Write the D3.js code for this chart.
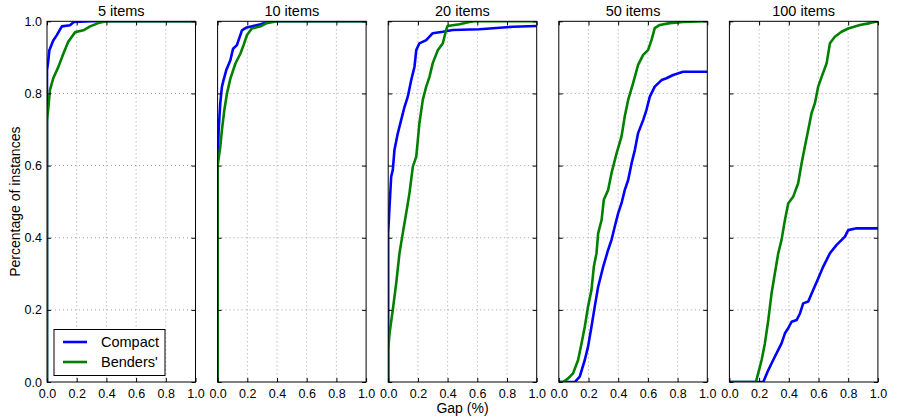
<!DOCTYPE html>
<html>
<head>
<meta charset="utf-8">
<script src="https://cdn.jsdelivr.net/npm/d3@7"></script>
<style>
  html, body { margin: 0; padding: 0; background: #fff; }
  svg { display: block; }
  text { font-family: "Liberation Sans", Arial, Helvetica, sans-serif; fill: #000; }
</style>
</head>
<body>
<svg id="chart" width="897" height="418"></svg>
<script>
// Cumulative share of instances solved within a given optimality gap,
// one panel per instance size. Each point is [gap, fraction].
const panelTitles = ["5 items", "10 items", "20 items", "50 items", "100 items"];
const xTicks = [0.0, 0.2, 0.4, 0.6, 0.8, 1.0];
const yTicks = [0.0, 0.2, 0.4, 0.6, 0.8, 1.0];
const seriesNames = ["Compact", "Benders'"];
const seriesColors = ["#0000ff", "#008000"];

const compact5 = [[0,0],[0,0.864],[0.009,0.892],[0.016,0.92],[0.042,0.947],[0.065,0.961],
  [0.10,0.986],[0.155,0.989],[0.18,0.998],[0.30,1.0],[1.0,1.0]];
const benders5 = [[0,0],[0,0.726],[0.009,0.76],[0.02,0.81],[0.042,0.842],[0.076,0.873],
  [0.11,0.91],[0.143,0.943],[0.19,0.97],[0.245,0.975],[0.29,0.986],[0.345,0.995],[0.40,1.0],[1.0,1.0]];

const compact10 = [[0,0],[0,0.60],[0.007,0.698],[0.018,0.773],[0.029,0.818],[0.04,0.837],
  [0.058,0.864],[0.086,0.892],[0.104,0.924],[0.13,0.934],[0.164,0.975],[0.19,0.982],
  [0.29,0.992],[0.35,1.0],[1.0,1.0]];
const benders10 = [[0,0],[0,0.599],[0.018,0.652],[0.029,0.698],[0.045,0.753],[0.063,0.80],
  [0.086,0.841],[0.12,0.883],[0.153,0.91],[0.175,0.934],[0.197,0.961],[0.23,0.98],
  [0.29,0.986],[0.33,0.995],[0.40,1.0],[1.0,1.0]];

const compact20 = [[0,0],[0,0.413],[0.009,0.486],[0.02,0.569],[0.031,0.588],[0.042,0.643],
  [0.065,0.69],[0.087,0.726],[0.11,0.763],[0.132,0.791],[0.155,0.837],[0.177,0.874],
  [0.189,0.92],[0.21,0.939],[0.256,0.948],[0.30,0.967],[0.368,0.971],[0.435,0.976],
  [0.615,0.978],[0.84,0.985],[1.0,0.987]];
const benders20 = [[0,0],[0,0.089],[0.009,0.135],[0.031,0.20],[0.054,0.274],[0.076,0.357],
  [0.098,0.412],[0.121,0.468],[0.143,0.523],[0.166,0.597],[0.189,0.625],[0.20,0.673],
  [0.21,0.717],[0.233,0.782],[0.256,0.819],[0.278,0.846],[0.30,0.884],[0.334,0.92],
  [0.368,0.939],[0.39,0.976],[0.40,0.987],[0.48,0.992],[0.547,0.998],[0.58,1.0],[1.0,1.0]];

const compact50 = [[0,0],[0.108,0],[0.141,0.015],[0.175,0.061],[0.197,0.098],[0.22,0.153],
  [0.242,0.209],[0.265,0.264],[0.299,0.32],[0.332,0.366],[0.355,0.394],[0.377,0.431],
  [0.40,0.468],[0.422,0.495],[0.444,0.532],[0.467,0.56],[0.49,0.606],[0.512,0.643],
  [0.534,0.69],[0.568,0.726],[0.59,0.754],[0.613,0.791],[0.646,0.819],[0.692,0.837],
  [0.725,0.842],[0.77,0.851],[0.837,0.86],[1.0,0.86]];
const benders50 = [[0,0],[0.029,0],[0.063,0.01],[0.096,0.024],[0.13,0.061],[0.153,0.107],
  [0.175,0.153],[0.197,0.209],[0.22,0.255],[0.236,0.32],[0.254,0.357],[0.265,0.412],
  [0.288,0.449],[0.303,0.505],[0.332,0.532],[0.355,0.579],[0.389,0.634],[0.422,0.68],
  [0.444,0.736],[0.467,0.782],[0.50,0.828],[0.534,0.879],[0.568,0.907],[0.601,0.92],
  [0.624,0.948],[0.646,0.981],[0.68,0.99],[0.747,0.995],[0.837,0.998],[1.0,1.0]];

const compact100 = [[0,0],[0.228,0],[0.262,0.033],[0.295,0.061],[0.329,0.089],[0.351,0.107],
  [0.374,0.135],[0.396,0.149],[0.419,0.167],[0.453,0.172],[0.475,0.19],[0.497,0.218],
  [0.531,0.223],[0.564,0.255],[0.598,0.287],[0.632,0.32],[0.677,0.357],[0.722,0.38],
  [0.778,0.403],[0.80,0.421],[0.857,0.426],[1.0,0.426]];
const benders100 = [[0,0],[0.178,0],[0.194,0.024],[0.217,0.061],[0.239,0.107],[0.262,0.172],
  [0.284,0.246],[0.306,0.301],[0.329,0.357],[0.351,0.394],[0.374,0.449],[0.396,0.495],
  [0.43,0.514],[0.463,0.551],[0.486,0.606],[0.508,0.652],[0.531,0.699],[0.553,0.745],
  [0.576,0.773],[0.598,0.819],[0.621,0.846],[0.655,0.884],[0.677,0.939],[0.71,0.957],
  [0.755,0.971],[0.80,0.98],[0.879,0.99],[0.946,0.995],[1.0,1.0]];

const compactSeries = [compact5, compact10, compact20, compact50, compact100];
const bendersSeries = [benders5, benders10, benders20, benders50, benders100];

// Layout
const svg = d3.select("#chart");
const firstLeft = 47, panelStep = 170.6, panelW = 148.5;
const plotTop = 21.3, plotBottom = 382;
const plotH = plotBottom - plotTop;

const x = d3.scaleLinear().domain([0, 1]).range([0, panelW]);
const y = d3.scaleLinear().domain([0, 1]).range([plotH, 0]);
const line = d3.line().x(d => x(d[0])).y(d => y(d[1]));

const fmt = d3.format(".1f");

panelTitles.forEach((title, i) => {
  const g = svg.append("g")
    .attr("transform", `translate(${firstLeft + i * panelStep},${plotTop})`);

  const clipId = "clip" + i;
  g.append("clipPath").attr("id", clipId)
    .append("rect").attr("width", panelW).attr("height", plotH);

  // dotted grid
  const grid = g.append("g").attr("stroke", "#8a8a8a").attr("stroke-width", 0.8)
    .attr("stroke-dasharray", "1,3");
  grid.selectAll("line.gx").data(xTicks.slice(1, -1)).join("line")
    .attr("class", "gx")
    .attr("x1", d => x(d)).attr("x2", d => x(d)).attr("y1", 0).attr("y2", plotH);
  grid.selectAll("line.gy").data(yTicks.slice(1, -1)).join("line")
    .attr("class", "gy")
    .attr("x1", 0).attr("x2", panelW).attr("y1", d => y(d)).attr("y2", d => y(d));

  // curves
  const curves = g.append("g").attr("clip-path", `url(#${clipId})`);
  [compactSeries[i], bendersSeries[i]].forEach((pts, k) => {
    curves.append("path").datum(pts)
      .attr("d", line)
      .attr("fill", "none")
      .attr("stroke", seriesColors[k])
      .attr("stroke-width", 2.6)
      .attr("stroke-linejoin", "round");
  });

  // axes with inward ticks
  const xAxisB = d3.axisBottom(x).tickValues(xTicks).tickFormat(fmt).tickSizeInner(-4).tickSizeOuter(0).tickPadding(7);
  const xAxisT = d3.axisTop(x).tickValues(xTicks).tickFormat("").tickSizeInner(-4).tickSizeOuter(0);
  const yAxisL = d3.axisLeft(y).tickValues(yTicks).tickFormat(fmt).tickSizeInner(-4).tickSizeOuter(0).tickPadding(5);
  const yAxisR = d3.axisRight(y).tickValues(yTicks).tickFormat("").tickSizeInner(-4).tickSizeOuter(0);

  const ax = [
    g.append("g").attr("transform", `translate(0,${plotH})`).call(xAxisB),
    g.append("g").call(xAxisT),
    g.append("g").call(yAxisL),
    g.append("g").attr("transform", `translate(${panelW},0)`).call(yAxisR)
  ];
  ax.forEach(a => {
    a.select(".domain").remove();
    a.selectAll("line").attr("stroke", "#000").attr("stroke-width", 1);
    a.selectAll("text").attr("font-size", "12.5px")
      .attr("font-family", "'Liberation Sans', Arial, sans-serif").attr("fill", "#000");
  });
  if (i > 0) ax[2].selectAll("text").remove();

  g.append("rect").attr("width", panelW).attr("height", plotH)
    .attr("fill", "none").attr("stroke", "#000").attr("stroke-width", 1);

  g.append("text").attr("x", panelW / 2).attr("y", -5)
    .attr("text-anchor", "middle").attr("font-size", "14.5px").text(title);
});

// axis titles
svg.append("text").attr("x", 462.5).attr("y", 413)
  .attr("text-anchor", "middle").attr("font-size", "14px").text("Gap (%)");
svg.append("text")
  .attr("transform", `translate(20,${(plotTop + plotBottom) / 2}) rotate(-90)`)
  .attr("text-anchor", "middle").attr("font-size", "14px").text("Percentage of instances");

// legend
const leg = svg.append("g").attr("transform", "translate(54,329.5)");
leg.append("rect").attr("width", 111).attr("height", 46)
  .attr("fill", "#fff").attr("stroke", "#000").attr("stroke-width", 1);
seriesNames.forEach((name, k) => {
  const ly = 12.5 + k * 20;
  leg.append("line").attr("x1", 9).attr("x2", 33).attr("y1", ly).attr("y2", ly)
    .attr("stroke", seriesColors[k]).attr("stroke-width", 2.6);
  leg.append("text").attr("x", 47).attr("y", ly + 5)
    .attr("font-size", "14.5px").text(name);
});
</script>
</body>
</html>
